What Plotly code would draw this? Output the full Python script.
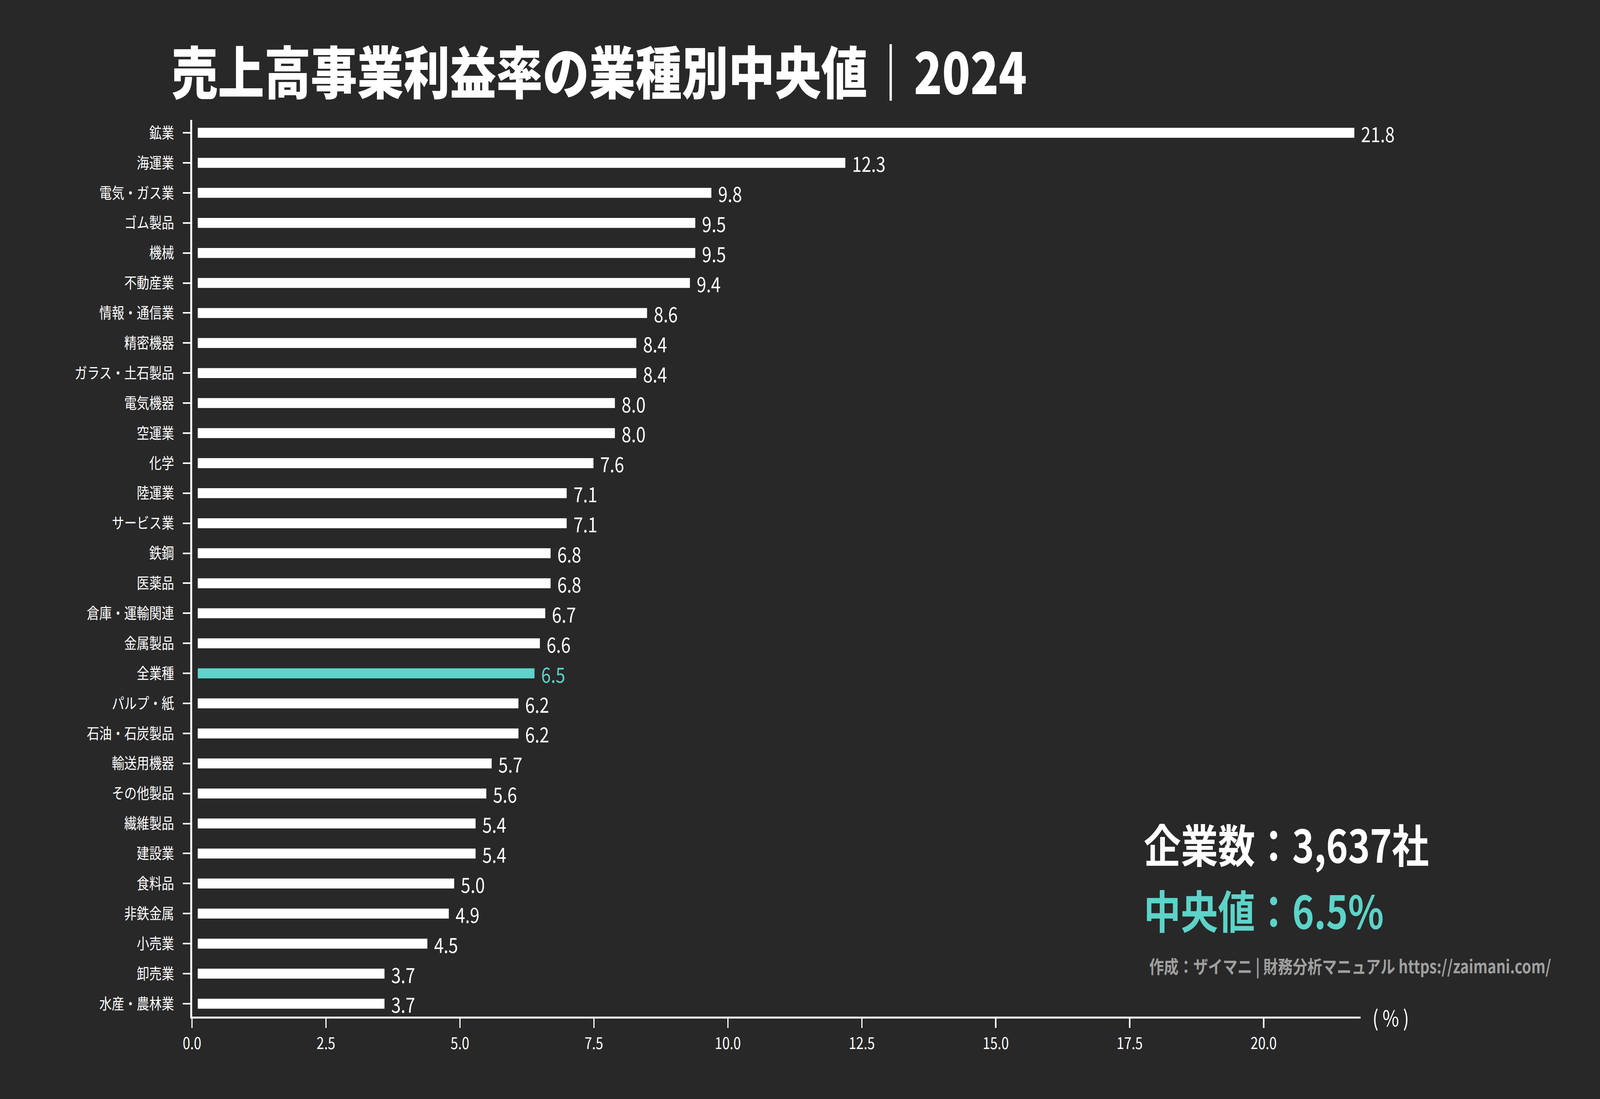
import plotly.graph_objects as go

categories = ["鉱業", "海運業", "電気・ガス業", "ゴム製品", "機械", "不動産業", "情報・通信業",
              "精密機器", "ガラス・土石製品", "電気機器", "空運業", "化学", "陸運業", "サービス業",
              "鉄鋼", "医薬品", "倉庫・運輸関連", "金属製品", "全業種", "パルプ・紙", "石油・石炭製品",
              "輸送用機器", "その他製品", "繊維製品", "建設業", "食料品", "非鉄金属", "小売業",
              "卸売業", "水産・農林業"]
values = [21.8, 12.3, 9.8, 9.5, 9.5, 9.4, 8.6, 8.4, 8.4, 8.0, 8.0, 7.6, 7.1, 7.1,
          6.8, 6.8, 6.7, 6.6, 6.5, 6.2, 6.2, 5.7, 5.6, 5.4, 5.4, 5.0, 4.9, 4.5, 3.7, 3.7]
x_ticks = [0.0, 2.5, 5.0, 7.5, 10.0, 12.5, 15.0, 17.5, 20.0]
highlight = "全業種"
title_text = "売上高事業利益率の業種別中央値｜2024"
company_count = "企業数：3,637社"
median_text = "中央値：6.5%"
credit_text = "作成：ザイマニ | 財務分析マニュアル https://zaimani.com/"

W, H = 5000, 2814
L, R, T, B = 600, 748, 307, 211
PW, PH = W - L - R, H - T - B
BG = "#282828"
TEAL = "#5dd3c9"
FONT = "Noto Sans CJK JP"

colors = [TEAL if c == highlight else "#ffffff" for c in categories]

fig = go.Figure(go.Bar(
    x=values, y=categories, orientation="h",
    marker=dict(color=colors, line=dict(width=36, color=BG)),
    width=0.8,
    texttemplate="%{x:.1f}", textposition="outside",
    textfont=dict(color=colors, size=54, family=FONT),
    constraintext="none", cliponaxis=False,
))

fig.update_layout(
    width=W, height=H,
    paper_bgcolor=BG, plot_bgcolor=BG,
    margin=dict(l=L, r=R, t=T, b=B),
    showlegend=False,
    font=dict(family=FONT, color="#ffffff"),
    title=dict(text=title_text, x=536/W, xanchor="left", xref="container",
               y=1-190/H, yanchor="middle", yref="container",
               font=dict(size=145, family=FONT, weight=900, color="#ffffff")),
)

fig.update_xaxes(
    range=[0, 21.81], tickvals=x_ticks, tickformat=".1f",
    showgrid=False, zeroline=False,
    showline=True, linecolor="#ffffff", linewidth=5,
    ticks="outside", ticklen=24, tickwidth=4, tickcolor="#ffffff",
    tickfont=dict(size=42, color="#ffffff", family=FONT),
    ticklabelstandoff=4,
)
fig.update_yaxes(
    range=[len(categories) - 1 + 0.43, -0.43], showgrid=False, zeroline=False,
    showline=True, linecolor="#ffffff", linewidth=5,
    ticks="outside", ticklen=24, tickwidth=4, tickcolor="#ffffff",
    tickfont=dict(size=39, color="#ffffff", family=FONT),
    ticklabelstandoff=19,
)

def px_x(x):
    return (x - L) / PW

def px_y(y):
    return (H - B - y) / PH

fig.add_annotation(text="( % )", xref="paper", yref="paper", x=1, y=0,
                   xanchor="center", yanchor="middle", xshift=94, showarrow=False,
                   font=dict(size=56, color="#ffffff", family=FONT))
fig.add_annotation(text=company_count, xref="paper", yref="paper",
                   x=px_x(3572), y=px_y(2158), xanchor="left", yanchor="middle",
                   showarrow=False, font=dict(size=116, color="#ffffff", family=FONT, weight="bold"))
fig.add_annotation(text=median_text, xref="paper", yref="paper",
                   x=px_x(3572), y=px_y(2327), xanchor="left", yanchor="middle",
                   showarrow=False, font=dict(size=116, color=TEAL, family=FONT, weight="bold"))
fig.add_annotation(text=credit_text, xref="paper", yref="paper",
                   x=px_x(3589), y=px_y(2472), xanchor="left", yanchor="middle",
                   showarrow=False, font=dict(size=46, color="#a0a0a0", family=FONT, weight="bold"))

fit_js = """
(function(){
  var W=%d, H=%d;
  var de=document.documentElement, b=document.body;
  de.style.margin='0'; de.style.overflow='hidden'; de.style.background='%s';
  b.style.margin='0'; b.style.overflow='hidden'; b.style.background='%s';
  var gd=document.getElementById('{plot_id}');
  var vw=window.innerWidth||de.clientWidth, vh=window.innerHeight||de.clientHeight;
  var sx=vw/W, sy=vh/H;
  var wrap=gd.parentElement;
  wrap.style.width=vw+'px'; wrap.style.height=vh+'px'; wrap.style.overflow='hidden';
  gd.style.transformOrigin='0 0';
  gd.style.transform='scale('+sx+','+sy+')';
})();
""" % (W, H, BG, BG)

fig.write_html("out.html", post_script=fit_js, config={"displayModeBar": False})
